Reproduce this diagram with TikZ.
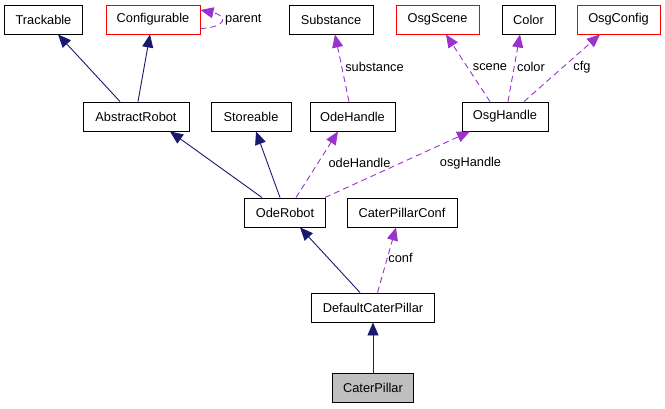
\documentclass[tikz,border=0pt]{standalone}
\usepackage{fontspec}
\setmainfont{Liberation Sans}
\usetikzlibrary{arrows.meta}
\definecolor{inhcol}{HTML}{191970}
\definecolor{usecol}{HTML}{9A32CD}
\definecolor{grayfill}{HTML}{BFBFBF}
\begin{document}
\begin{tikzpicture}[x=1pt,y=-1pt,
  font=\fontsize{12.8}{15}\selectfont,
  cls/.style={draw=black,line width=0.9pt,minimum height=29pt,inner sep=0pt,fill=white},
  redcls/.style={cls,draw=red},
  inh/.style={draw=inhcol,line width=0.9pt,-{Triangle[length=13pt,width=11pt]}},
  use/.style={draw=usecol,line width=0.9pt,dash pattern=on 6pt off 4pt,-{Triangle[length=13pt,width=11pt,fill=usecol]}},
  lbl/.style={inner sep=0pt}]
\useasboundingbox (0,0) rectangle (665,408);
% row 1
\node[cls,minimum width=78pt] (trackable) at (43.5,19.5) {Trackable};
\node[redcls,minimum width=94pt] (configurable) at (153,19.5) {Configurable};
\node[cls,minimum width=84pt] (substance) at (331,19.5) {Substance};
\node[redcls,minimum width=83pt] (osgscene) at (437.5,19.5) {OsgScene};
\node[cls,minimum width=53pt] (color) at (528.5,19.5) {Color};
\node[redcls,minimum width=83pt] (osgconfig) at (618.5,19.5) {OsgConfig};
% row 2
\node[cls,minimum width=106pt] (abstract) at (136,116.5) {AbstractRobot};
\node[cls,minimum width=80pt] (storeable) at (251,116.5) {Storeable};
\node[cls,minimum width=85pt] (odehandle) at (352.5,116.5) {OdeHandle};
\node[cls,minimum width=86pt] (osghandle) at (505,116.5) {OsgHandle};
% row 3
\node[cls,minimum width=81pt] (oderobot) at (285,212.5) {OdeRobot};
\node[cls,minimum width=110pt] (cpconf) at (402,212.5) {CaterPillarConf};
% row 4
\node[cls,minimum width=123pt] (defcp) at (373,307.5) {DefaultCaterPillar};
% row 5
\node[cls,minimum width=81pt,fill=grayfill] (cp) at (373,387.5) {CaterPillar};

% inheritance
\draw[inh] ([xshift=-16pt]abstract.north) -- ([xshift=14.5pt]trackable.south);
\draw[inh] ([xshift=2pt]abstract.north) -- ([xshift=-3pt]configurable.south);
\draw[inh] ([xshift=-23pt]oderobot.north) -- ([xshift=34pt]abstract.south);
\draw[inh] ([xshift=-5pt]oderobot.north) -- ([xshift=5pt]storeable.south);
\draw[inh] ([xshift=-13pt]defcp.north) -- ([xshift=15pt]oderobot.south);
\draw[inh] (cp.north) -- (defcp.south);

% usage
\draw[use] ([yshift=-9pt]configurable.east) .. controls +(26,-1) and +(28,6) .. ([yshift=9.5pt]configurable.east);
\node[lbl,anchor=west] (lparent) at (225,19.5) {parent};

\draw[use] ([xshift=-3.5pt]odehandle.north) -- ([xshift=4pt]substance.south);
\node[lbl] (lsubst) at (374.5,67) {substance};

\draw[use] ([xshift=-15pt]osghandle.north) -- ([xshift=8.5pt]osgscene.south);
\node[lbl] (lscene) at (490,67) {scene};
\draw[use] ([xshift=3pt]osghandle.north) -- ([xshift=-8.5pt]color.south);
\node[lbl] (lcolor) at (531,67) {color};
\draw[use] ([xshift=19pt]osghandle.north) -- ([xshift=-18.5pt]osgconfig.south);
\node[lbl] (lcfg) at (582,67) {cfg};

\draw[use] ([xshift=11pt]oderobot.north) -- ([xshift=-14.5pt]odehandle.south);
\node[lbl] (lode) at (359.5,163) {odeHandle};
\draw[use] ([xshift=-1pt]oderobot.north east) -- ([xshift=-35pt]osghandle.south);
\node[lbl] (losg) at (470.5,163) {osgHandle};

\draw[use] ([xshift=4.5pt]defcp.north) -- ([xshift=-6pt]cpconf.south);
\node[lbl] (lconf) at (400.5,258) {conf};
\end{tikzpicture}
\end{document}
